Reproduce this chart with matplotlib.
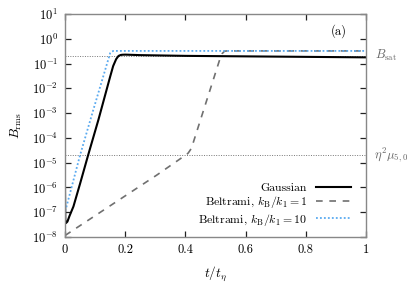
import numpy as np
import matplotlib
matplotlib.use('Agg')
import matplotlib.pyplot as plt
from matplotlib.ticker import NullLocator, FixedLocator

plt.rcParams['font.family'] = 'cmr10'
plt.rcParams['mathtext.fontset'] = 'cm'
plt.rcParams['axes.formatter.use_mathtext'] = True
plt.rcParams['font.size'] = 9

# values (y as log10 of B_rms)
t_gauss = [0, 0.001, 0.003, 0.008, 0.015, 0.028, 0.05, 0.077, 0.111, 0.15, 0.16,
           0.17, 0.178, 0.185, 0.19, 0.2, 0.25, 0.4, 0.6, 0.8, 1.0]
lg_gauss = [-6.06, -7.3, -7.44, -7.38, -7.15, -6.77, -5.85, -4.69, -3.27, -1.53, -1.1,
            -0.82, -0.69, -0.655, -0.645, -0.64, -0.66, -0.69, -0.71, -0.73, -0.75]

t_belt1 = [0, 0.1, 0.2, 0.305, 0.388, 0.40, 0.41, 0.42, 0.515, 0.522, 0.53, 0.54, 1.0]
lg_belt1 = [-7.94, -7.14, -6.34, -5.5, -4.8, -4.73, -4.6, -4.42, -0.8, -0.6, -0.5, -0.49, -0.49]

t_belt10 = [0, 0.005, 0.05, 0.094, 0.15, 0.156, 0.162, 1.0]
lg_belt10 = [-6.95, -6.77, -4.7, -2.87, -0.58, -0.51, -0.49, -0.49]

B_sat = 0.21
eta2_mu = 2.04e-5

fig = plt.figure(figsize=(4.07, 2.85), dpi=100)
ax = fig.add_axes([0.1597, 0.1684, 0.7396, 0.7825])

ax.axhline(B_sat, color='#777777', lw=0.7, ls=(0, (1, 1.5)))
ax.axhline(eta2_mu, color='#777777', lw=0.7, ls=(0, (1, 1.5)))

ax.plot(t_gauss, 10 ** np.array(lg_gauss), color='black', lw=1.5, label='Gaussian')
ax.plot(t_belt1, 10 ** np.array(lg_belt1), color='#707070', lw=1.2,
        ls=(0, (4, 4)), label=r'Beltrami, $k_\mathrm{B}/k_1 = 1$')
ax.plot(t_belt10, 10 ** np.array(lg_belt10), color='#5aaaf0', lw=1.3,
        ls=(0, (1, 1.2)), label=r'Beltrami, $k_\mathrm{B}/k_1 = 10$')

ax.set_yscale('log')
ax.set_xlim(0, 1)
ax.set_ylim(1e-8, 1e1)
ax.yaxis.set_major_locator(FixedLocator([10.0 ** k for k in range(-8, 2)]))
ax.yaxis.set_minor_locator(NullLocator())
ax.set_xticks([0, 0.2, 0.4, 0.6, 0.8, 1])
ax.set_xticklabels(['0', '0.2', '0.4', '0.6', '0.8', '1'])

ax.tick_params(which='both', direction='in', top=True, right=True,
               length=4.3, width=0.9, color='#222222', pad=5, labelsize=9)
for s in ax.spines.values():
    s.set_color('#888888')
    s.set_linewidth(1.0)

ax.set_xlabel(r'$t/t_\eta$', fontsize=9.5, labelpad=6)
ax.set_ylabel(r'$B_\mathrm{rms}$', fontsize=9.5, labelpad=6)

ax.text(0.935, 0.925, '(a)', transform=ax.transAxes, ha='right', va='center', fontsize=9)
ax.text(1.03, B_sat, r'$B_\mathrm{sat}$', transform=ax.get_yaxis_transform(),
        ha='left', va='center', color='#666666', fontsize=9)
ax.text(1.025, eta2_mu, r'$\eta^2\mu_{5,0}$', transform=ax.get_yaxis_transform(),
        ha='left', va='center', color='#666666', fontsize=9)

ax.legend(loc='lower right', bbox_to_anchor=(0.98, 0.0), frameon=False,
          markerfirst=False, handlelength=2.9, handletextpad=0.8,
          labelspacing=0.12, borderpad=0.3, fontsize=8.5)

fig.savefig('out.png', dpi=100)
